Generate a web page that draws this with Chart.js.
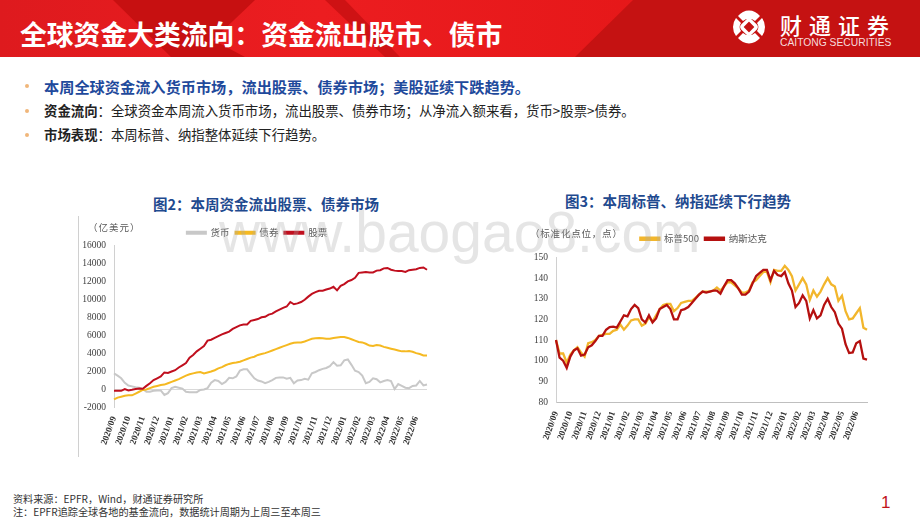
<!DOCTYPE html>
<html>
<head>
<meta charset="utf-8">
<script src="https://cdn.jsdelivr.net/npm/chart.js@4"></script>
<style>
  html, body { margin: 0; padding: 0; background: #fff; }
  body { width: 920px; height: 518px; position: relative; overflow: hidden; font-family: "Noto Sans CJK SC", "Noto Sans", sans-serif; }
  .abs { position: absolute; white-space: nowrap; }
  #band { left: 0; top: 0; width: 920px; height: 57px; background: linear-gradient(90deg, #de1a1e, #ec1d20 35%, #e01313); overflow: hidden; }
  #band div { position: absolute; left: 0; top: 0; width: 920px; height: 57px; }
  #title { left: 20px; top: 15px; color: #fff; font-size: 26.8px; line-height: 38px; font-weight: 700; }
  .bullet { left: 25px; width: 4px; height: 4px; border-radius: 50%; background: #f0b67a; }
  .line { left: 44px; color: #222; font-size: 13.4px; line-height: 18px; }
  .chartTitle { color: #1f4a8f; font-size: 14.5px; font-weight: 700; line-height: 18px; }
  .unit { color: #595959; font-size: 9.5px; line-height: 12px; letter-spacing: 0.6px; }
  .foot { left: 13px; color: #333; font-size: 10.15px; line-height: 13px; }
  canvas { position: absolute; }
  #mark { left: 219px; top: 199px; font-family: "Liberation Sans", sans-serif; font-size: 57px; line-height: 66px; color: rgba(170,170,170,0.3); z-index: 5; }
</style>
</head>
<body>
<div class="abs" id="band">
  <div style="background:#c71011;clip-path:polygon(113px 0,255px 0,213px 40px,245px 57px,171px 57px);"></div>
  <div style="background:#ce1214;clip-path:polygon(325px 0,345px 0,400px 57px,385px 57px);"></div>
  <div style="background:#c51212;clip-path:polygon(633px 0,920px 0,920px 57px,575px 57px);"></div>
</div>
<div class="abs" id="title">全球资金大类流向&#xFF1A;资金流出股市、债市</div>

<svg class="abs" style="left:730px;top:6px" width="38" height="42" viewBox="0 0 38 42">
  <path d="M8 10 A15 17 0 0 1 30 10 L25 15 A9 9 0 0 0 13 15 Z" fill="#fff"/>
  <path d="M8 32 A15 17 0 0 0 30 32 L25 27 A9 9 0 0 1 13 27 Z" fill="#fff"/>
  <path d="M6 12 A15 15 0 0 0 6 30 L11 25 A7 7 0 0 1 11 17 Z" fill="#fff"/>
  <path d="M32 12 A15 15 0 0 1 32 30 L27 25 A7 7 0 0 0 27 17 Z" fill="#fff"/>
  <rect x="13.5" y="15.5" width="11" height="11" rx="2" transform="rotate(45 19 21)" fill="none" stroke="#fff" stroke-width="3.5"/>
</svg>
<div class="abs" style="left:780px;top:9px;color:#fff;font-size:22px;line-height:30px;font-weight:500;letter-spacing:7px;">财通证券</div>
<div class="abs" style="left:780px;top:36px;color:#f6dcdc;font-family:'Liberation Sans',sans-serif;font-size:10.3px;line-height:13px;">CAITONG SECURITIES</div>

<div class="abs bullet" style="top:84px"></div>
<div class="abs line" style="top:77px;font-size:15.2px;font-weight:700;color:#1f4a9c;">本周全球资金流入货币市场&#xFF0C;流出股票、债券市场&#xFF1B;美股延续下跌趋势。</div>
<div class="abs bullet" style="top:109px"></div>
<div class="abs line" style="top:101px"><b>资金流向</b>&#xFF1A;全球资金本周流入货币市场&#xFF0C;流出股票、债券市场&#xFF1B;从净流入额来看&#xFF0C;货币&gt;股票&gt;债券。</div>
<div class="abs bullet" style="top:133px"></div>
<div class="abs line" style="top:125px"><b>市场表现</b>&#xFF1A;本周标普、纳指整体延续下行趋势。</div>

<div class="abs chartTitle" style="left:153px;top:195px">图2&#xFF1A;本周资金流出股票、债券市场</div>
<div class="abs chartTitle" style="left:565px;top:192px">图3&#xFF1A;本周标普、纳指延续下行趋势</div>
<div class="abs" style="left:78px;top:216px;width:1px;height:241px;background:#d0d0d0"></div>
<canvas id="flows" class="abs" style="left:70px;top:216px;width:370px;height:253px"></canvas>
<canvas id="index" class="abs" style="left:520px;top:228px;width:370px;height:236px"></canvas>
<div class="abs unit" style="left:88px;top:221px;letter-spacing:1px">&#xFF08;亿美元&#xFF09;</div>
<div class="abs unit" style="left:530px;top:227px;letter-spacing:0.8px">&#xFF08;标准化点位&#xFF0C;点&#xFF09;</div>

<div class="abs foot" style="top:492px">资料来源&#xFF1A;EPFR&#xFF0C;Wind&#xFF0C;财通证券研究所</div>
<div class="abs foot" style="top:505px">注&#xFF1A;EPFR追踪全球各地的基金流向&#xFF0C;数据统计周期为上周三至本周三</div>
<div class="abs" style="left:881px;top:492px;color:#c0141a;font-family:'Liberation Sans',sans-serif;font-size:17px;line-height:22px;">1</div>
<div class="abs" id="mark">www.baogao8.com</div>

<script>
const months = ["2020/09","2020/10","2020/11","2020/12","2021/01","2021/02","2021/03","2021/04","2021/05","2021/06","2021/07","2021/08","2021/09","2021/10","2021/11","2021/12","2022/01","2022/02","2022/03","2022/04","2022/05","2022/06"];
// weekly points, only the first one of a month gets a label
const weeks = months.flatMap((m) => [m, "", "", ""]);

const cash = [1750,1500,1200,700,400,300,200,150,0,-300,-300,-200,-150,-150,-650,-450,100,250,150,50,-300,-350,-350,-350,-100,-50,100,700,1000,900,550,800,1250,1200,1400,2050,2200,2200,1700,1200,950,850,650,800,1000,1250,1300,1300,1150,1250,650,950,1000,1150,1050,1750,1900,2100,2250,2350,2550,3000,2600,2650,3200,3300,2700,2050,1900,1500,650,800,1200,1100,750,900,1000,900,0,550,350,150,100,350,400,900,400,500];
const bonds = [-1150,-950,-850,-750,-700,-700,-500,-300,-100,-50,100,250,350,450,500,650,800,950,1100,1300,1500,1650,1750,1850,1900,1750,1850,1950,2100,2300,2450,2650,2800,2900,2950,3050,3200,3350,3500,3600,3800,3900,4000,4150,4300,4450,4600,4750,4900,5050,5150,5200,5200,5300,5450,5600,5650,5700,5650,5600,5600,5700,5750,5800,5800,5700,5550,5400,5250,5200,5050,4850,4800,4900,4850,4700,4600,4500,4400,4300,4200,4200,4250,4150,4000,3900,3750,3750];
const stocks = [-200,-200,-200,0,-150,-80,0,50,30,350,650,1000,1200,1400,1850,1800,1950,2100,2400,2650,2900,3500,3800,4200,4500,4800,5400,5500,5700,5900,6100,6250,6400,6700,6900,7100,7200,7200,7600,7700,7800,8000,8050,8300,8400,8650,8850,9050,9200,9700,9450,9550,9700,9950,10300,10600,10800,10950,10950,11100,11200,11400,11000,11500,11700,12000,12150,12400,12950,13000,13050,13000,13000,13200,13250,13450,13500,13300,13200,13150,13150,13050,13250,13300,13350,13500,13550,13300];

const spx = [110,103.5,103.5,99,103,105,106.5,104,102,108.5,109,110,112,112.5,113,113,114.5,115,117.5,115,117,119.5,120,120,117,118,121,119,122,125,127,127.5,127.5,124,125.5,128,128.5,129,129,130.5,132,133.5,133.5,133.5,134,135.5,134,136,138,138,136.5,135,133,133,134,138,139,141,143,143,138,144,143.5,143.5,146,144,141,134,137,140,137,129.5,134,131,133.5,137,140,137,136,129,131.5,124,120,120.5,123,125.5,116,115];
const nasdaq = [110,101.5,100,96.5,102,105,106,102.5,103,106.5,107.5,109.5,112,112,115,116.3,116.5,116,119,122,121.5,125,127,125.5,120,118.5,122,118.5,120.5,125,126,127,125,120,120,124.5,125,126,128,130,132,133.5,133,133.5,134,134,132.5,136,139,139,137.5,135,132,132,133.5,137.5,141,142.5,144,144,139,143.5,141.5,141,143,137.5,134,126,128,131.7,129,120.5,124.5,120.5,122,127,130,126,123.5,118,115.5,108,103.7,104,108.5,109.5,101,100.5];

const FLOW_MIN = -2000, FLOW_MAX = 16000, FLOW_STEP = 2000;
const INDEX_MIN = 80, INDEX_MAX = 150, INDEX_STEP = 10;

// nudge the legend: gap changes room below it, dx slides it sideways
const legendNudge = (gap, dx) => ({
  id: "legendNudge",
  beforeInit(chart) {
    const fit = chart.legend.fit;
    chart.legend.fit = function () {
      fit.call(this);
      this.height += gap;
    };
  },
  afterLayout(chart) {
    chart.legend.left += dx;
    chart.legend.right += dx;
  },
});

function makeOptions(cfg) {
  return {
    responsive: false,
    animation: false,
    layout: { padding: { top: cfg.padTop, right: cfg.padRight, left: 0, bottom: 0 } },
    elements: { point: { radius: 0 }, line: { tension: 0 } },
    plugins: {
      tooltip: { enabled: false },
      legend: {
        position: "top",
        labels: {
          boxWidth: 19,
          boxHeight: 2,
          padding: 6,
          color: "#595959",
          font: { size: 9.5, family: "'Noto Sans CJK SC'" },
          sort: (a, b) => a.datasetIndex - b.datasetIndex,
        },
      },
    },
    scales: {
      x: {
        afterFit: (s) => { s.height = 62; },
        grid: { display: false },
        border: { display: cfg.xBorder, color: "#bfbfbf" },
        ticks: {
          autoSkip: false,
          maxRotation: 70,
          minRotation: 70,
          padding: 0,
          color: "#333",
          font: { size: 9, family: "'Liberation Serif'", weight: "bold" },
        },
      },
      y: {
        min: cfg.min,
        max: cfg.max,
        afterFit: (s) => { s.width = cfg.yWidth; },
        grid: {
          drawTicks: false,
          color: (c) => (cfg.zeroLine && c.tick.value === 0 ? "#d9d9d9" : "transparent"),
        },
        border: { color: "#d0d0d0" },
        ticks: {
          stepSize: cfg.step,
          padding: 8,
          color: "#404040",
          font: { size: 9.5, family: "'Liberation Serif'" },
          callback: (v) => String(v),
        },
      },
    },
  };
}

function series(label, data, color, width, order) {
  return { label, data, borderColor: color, backgroundColor: color, borderWidth: width, order };
}

new Chart(document.getElementById("flows"), {
  type: "line",
  data: {
    labels: weeks,
    datasets: [
      series("货币", cash, "#c8c8c8", 2, 3),
      series("债券", bonds, "#f5b921", 2, 2),
      series("股票", stocks, "#c00f1e", 2, 1),
    ],
  },
  options: makeOptions({ min: FLOW_MIN, max: FLOW_MAX, step: FLOW_STEP, yWidth: 44, padTop: 6, padRight: 13, xBorder: false, zeroLine: true }),
  plugins: [legendNudge(-2, 8.5)],
});

new Chart(document.getElementById("index"), {
  type: "line",
  data: {
    labels: weeks,
    datasets: [
      series("标普500", spx, "#f2b62c", 2.3, 2),
      series("纳斯达克", nasdaq, "#b5100f", 2.3, 1),
    ],
  },
  options: makeOptions({ min: INDEX_MIN, max: INDEX_MAX, step: INDEX_STEP, yWidth: 36, padTop: 0, padRight: 23, xBorder: true, zeroLine: false }),
  plugins: [legendNudge(4, 10)],
});
</script>
</body>
</html>
